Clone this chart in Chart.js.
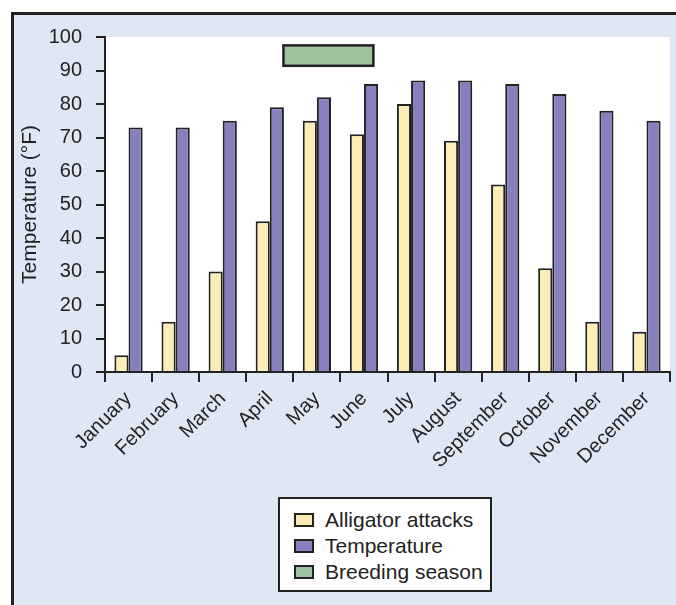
<!DOCTYPE html>
<html>
<head>
<meta charset="utf-8">
<script src="https://cdn.jsdelivr.net/npm/chart.js@4.4.1/dist/chart.umd.min.js"></script>
<style>
  body { margin: 0; background: #fff; font-family: "Liberation Sans", Arial, sans-serif; }
  #frame { position: absolute; left: 11px; top: 12px; width: 665px; height: 593px; background: #dfe6f4;
           border-top: 3px solid #222; border-left: 3px solid #222; box-sizing: border-box; }
  #wrap { position: absolute; left: 0; top: 0; width: 676px; height: 605px; }
  #legend { position: absolute; left: 278px; top: 497px; width: 214px; height: 95px; box-sizing: border-box;
            border: 2px solid #222; background: #fff; padding: 8px 0 0 14px; }
  .item { display: flex; align-items: center; height: 26px; font-size: 21px; color: #222; white-space: nowrap; }
  .swatch { width: 16px; height: 10px; border: 2px solid #222; margin-right: 11px; flex: none; }
</style>
</head>
<body>
<div id="frame"></div>
<div id="wrap"><canvas id="chart" width="676" height="605"></canvas></div>
<div id="legend"></div>
<script>
const months = ['January', 'February', 'March', 'April', 'May', 'June', 'July', 'August', 'September', 'October', 'November', 'December'];
const attacks = [5, 15, 30, 45, 75, 71, 80, 69, 56, 31, 15, 12];
const temperature = [73, 73, 75, 79, 82, 86, 87, 87, 86, 83, 78, 75];
// breeding season bar: month position (index) range and value range
const breedingMonths = [3.29, 5.2];
const breedingValues = [91.4, 97.5];

const colors = { attacks: '#fdeeb8', temperature: '#8780bf', breeding: '#9dc29e' };
const ink = '#222';

const breedingBar = {
    id: 'breedingBar',
    beforeDraw(chart) {
        const { ctx, chartArea } = chart;
        ctx.save();
        ctx.fillStyle = '#fff';
        ctx.fillRect(chartArea.left, chartArea.top, chartArea.right - chartArea.left, chartArea.bottom - chartArea.top);
        ctx.restore();
    },
    afterDatasetsDraw(chart) {
        const { ctx, scales } = chart;
        const x1 = scales.x.getPixelForValue(breedingMonths[0]);
        const x2 = scales.x.getPixelForValue(breedingMonths[1]);
        const y1 = scales.y.getPixelForValue(breedingValues[1]);
        const y2 = scales.y.getPixelForValue(breedingValues[0]);
        ctx.save();
        ctx.fillStyle = colors.breeding;
        ctx.fillRect(x1, y1, x2 - x1, y2 - y1);
        ctx.strokeStyle = ink;
        ctx.lineWidth = 2.5;
        ctx.strokeRect(x1, y1, x2 - x1, y2 - y1);
        ctx.restore();
    }
};

const family = '"Liberation Sans", Arial, sans-serif';

const chart = new Chart(document.getElementById('chart'), {
    type: 'bar',
    data: {
        labels: months,
        datasets: [
            { label: 'Alligator attacks', data: attacks, backgroundColor: colors.attacks, borderColor: ink, borderWidth: 2 },
            { label: 'Temperature', data: temperature, backgroundColor: colors.temperature, borderColor: ink, borderWidth: 2 }
        ]
    },
    options: {
        responsive: false,
        animation: false,
        layout: { padding: { top: 37, right: 6, left: 0, bottom: 0 } },
        datasets: { bar: { categoryPercentage: 0.6, barPercentage: 1.0 } },
        plugins: { legend: { display: false }, tooltip: { enabled: false } },
        scales: {
            x: {
                afterFit: s => { s.height = 233; },
                grid: { offset: true, drawOnChartArea: false, tickLength: 10, color: ink, lineWidth: 2 },
                border: { color: ink, width: 2 },
                ticks: { font: { family, size: 20 }, color: ink, minRotation: 45, maxRotation: 45, padding: 5 }
            },
            y: {
                min: 0, max: 100,
                afterFit: s => { s.width = 105; },
                grid: { drawOnChartArea: false, tickLength: 9, color: ink, lineWidth: 2 },
                border: { color: ink, width: 2 },
                ticks: { stepSize: 10, font: { family, size: 20 }, color: ink, padding: 14 },
                title: { display: true, text: 'Temperature (°F)', font: { family, size: 21 }, color: ink, padding: { top: 18 } }
            }
        }
    },
    plugins: [breedingBar]
});

const legendItems = [
    ['Alligator attacks', colors.attacks],
    ['Temperature', colors.temperature],
    ['Breeding season', colors.breeding]
];
document.getElementById('legend').innerHTML = legendItems.map(([t, c]) =>
    `<div class="item"><span class="swatch" style="background:${c}"></span>${t}</div>`).join('');
</script>
</body>
</html>
